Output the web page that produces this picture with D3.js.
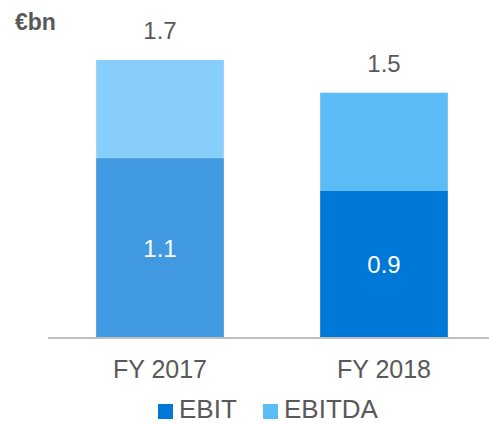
<!DOCTYPE html>
<html lang="en">
<head>
    <meta charset="utf-8">
    <title>EBIT / EBITDA</title>
    <script type="text/javascript" src="https://d3js.org/d3.v7.min.js"></script>
    <style>
        body { margin: 0; background: #fff; }
        text { font-family: Arial, "Liberation Sans", sans-serif; }
    </style>
</head>
<body>
    <div id="container"></div>
    <script type="text/javascript">
        // data
        var categories = ["FY 2017", "FY 2018"];
        var ebit = [1.1, 0.9];
        var ebitda = [1.7, 1.5];
        var ebitColors = ["#4199e1", "#0078d7"];
        var ebitdaColors = ["#87cefa", "#5bbcf6"];

        var w = 489;
        var h = 424;
        const svg = d3.select("div#container")
            .append("svg")
            .attr("width", w)
            .attr("height", h);

        var x = d3.scaleBand().domain(categories).range([48, 496])
            .paddingInner(0.43).paddingOuter(0.215);
        var y = d3.scaleLinear().domain([0, 1.7]).range([338, 60]);

        var rows = categories.map((c, i) => ({ cat: c, ebit: ebit[i], ebitda: ebitda[i], i: i }));

        // EBITDA part (top of the stack)
        svg.selectAll("rect.ebitda")
            .data(rows)
            .enter()
            .append("rect")
            .attr("class", "ebitda")
            .attr("x", d => x(d.cat))
            .attr("width", x.bandwidth())
            .attr("y", d => y(d.ebitda))
            .attr("height", d => y(d.ebit) - y(d.ebitda))
            .attr("fill", d => ebitdaColors[d.i]);

        // EBIT part
        svg.selectAll("rect.ebit")
            .data(rows)
            .enter()
            .append("rect")
            .attr("class", "ebit")
            .attr("x", d => x(d.cat))
            .attr("width", x.bandwidth())
            .attr("y", d => y(d.ebit))
            .attr("height", d => y(0) - y(d.ebit))
            .attr("fill", d => ebitColors[d.i]);

        // axis
        var axis = svg.append("g")
            .attr("transform", "translate(0," + y(0) + ")")
            .call(d3.axisBottom(x).tickSize(0).tickPadding(22));
        axis.select(".domain").attr("d", "M48,0H489").attr("stroke", "#bfbfbf").attr("stroke-width", 2);
        axis.selectAll("text").attr("font-size", 25).attr("fill", "#595959")
            .style("font-family", "Arial, 'Liberation Sans', sans-serif");

        // labels
        svg.selectAll("text.inner")
            .data(rows)
            .enter()
            .append("text")
            .attr("class", "inner")
            .attr("x", d => x(d.cat) + x.bandwidth() / 2)
            .attr("y", d => (y(0) + y(d.ebit)) / 2 + 9)
            .attr("text-anchor", "middle")
            .attr("font-size", 24)
            .attr("fill", "#fff")
            .text(d => d3.format(".1f")(d.ebit));

        svg.selectAll("text.total")
            .data(rows)
            .enter()
            .append("text")
            .attr("class", "total")
            .attr("x", d => x(d.cat) + x.bandwidth() / 2)
            .attr("y", d => y(d.ebitda) - 21)
            .attr("text-anchor", "middle")
            .attr("font-size", 24)
            .attr("fill", "#595959")
            .text(d => d3.format(".1f")(d.ebitda));

        svg.append("text")
            .attr("x", 15)
            .attr("y", 30)
            .attr("font-size", 23)
            .attr("font-weight", "bold")
            .attr("fill", "#595959")
            .text("€bn");

        // legend
        var legend = [
            { name: "EBIT", color: ebitColors[1], x: 158 },
            { name: "EBITDA", color: ebitdaColors[1], x: 263 }
        ];
        var lg = svg.selectAll("g.legend")
            .data(legend)
            .enter()
            .append("g")
            .attr("class", "legend")
            .attr("transform", d => "translate(" + d.x + ",404)");
        lg.append("rect").attr("width", 15).attr("height", 15).attr("fill", d => d.color);
        lg.append("text")
            .attr("x", 21)
            .attr("y", 14)
            .attr("font-size", 26)
            .attr("fill", "#595959")
            .text(d => d.name);
    </script>
</body>
</html>
